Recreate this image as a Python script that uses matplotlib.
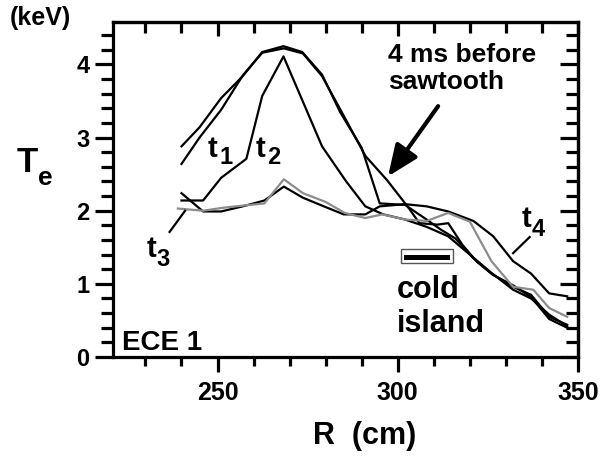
import matplotlib.pyplot as plt
from matplotlib.patches import Rectangle
from matplotlib.ticker import MultipleLocator

plt.rcParams['font.family'] = ['Liberation Sans', 'DejaVu Sans']
plt.rcParams['font.weight'] = 'bold'

# ECE1 electron temperature profiles, R in cm, Te in keV
r_t1a = [240, 245, 251, 257, 262.4, 268.3, 273.5, 279, 284, 290, 295, 302, 308, 312, 316, 321, 326, 332, 337, 342, 347]
te_t1a = [2.88, 3.14, 3.54, 3.84, 4.17, 4.25, 4.17, 3.86, 3.35, 2.86, 2.10, 2.08, 1.88, 1.74, 1.62, 1.35, 1.14, 0.96, 0.85, 0.55, 0.44]

r_t1b = [240, 245, 251, 257, 262.4, 268.4, 273.7, 279, 285, 291, 297, 303, 306, 311, 314, 318, 322, 326.5, 332, 337, 342, 347]
te_t1b = [2.64, 3.00, 3.38, 3.85, 4.16, 4.22, 4.15, 3.84, 3.30, 2.75, 2.42, 2.04, 1.83, 1.81, 1.83, 1.53, 1.30, 1.12, 0.98, 0.82, 0.52, 0.40]

r_t2 = [240, 246, 251, 258, 262.4, 268.3, 279, 285.7, 291, 296, 302, 308, 314, 320, 326, 332, 337, 342, 347]
te_t2 = [2.14, 2.14, 2.45, 2.71, 3.57, 4.11, 2.88, 2.40, 2.06, 1.95, 1.88, 1.78, 1.65, 1.40, 1.15, 0.92, 0.80, 0.58, 0.42]

r_t4 = [240, 246, 251, 257, 263, 268.4, 273.6, 279, 285, 291, 295, 302, 308, 314, 321, 326.5, 332, 337, 342, 347]
te_t4 = [2.24, 1.99, 1.99, 2.06, 2.14, 2.33, 2.18, 2.07, 1.95, 1.95, 2.06, 2.09, 2.06, 1.99, 1.86, 1.65, 1.31, 1.14, 0.87, 0.83]

r_t3 = [239, 246, 251.4, 257, 263, 268.4, 273.7, 280, 285.3, 291, 295.7, 302, 308, 314, 320, 326, 332, 337.6, 342, 347]
te_t3 = [2.03, 2.00, 2.04, 2.07, 2.10, 2.43, 2.24, 2.12, 1.97, 1.90, 1.95, 1.88, 1.86, 1.97, 1.85, 1.31, 0.96, 0.92, 0.67, 0.55]

fig = plt.figure(figsize=(6.03, 4.59), dpi=100)
ax = fig.add_axes([0.1874, 0.2222, 0.7711, 0.7298])

lw = 1.6
ax.plot(r_t1a, te_t1a, color='black', lw=lw)
ax.plot(r_t1b, te_t1b, color='black', lw=lw)
ax.plot(r_t2, te_t2, color='black', lw=lw)
ax.plot(r_t4, te_t4, color='black', lw=lw)
ax.plot(r_t3, te_t3, color='#8c8c8c', lw=lw)

ax.set_xlim(221, 350)
ax.set_ylim(0, 4.58)

for s in ax.spines.values():
    s.set_linewidth(2.3)

ax.xaxis.set_major_locator(MultipleLocator(50))
ax.xaxis.set_minor_locator(MultipleLocator(10))
ax.yaxis.set_major_locator(MultipleLocator(1))
ax.yaxis.set_minor_locator(MultipleLocator(0.2))
ax.tick_params(axis='x', which='major', direction='out', length=11, width=2.3, labelsize=18, pad=6)
ax.tick_params(axis='x', which='minor', direction='out', length=6.5, width=2.3)
ax.tick_params(axis='y', which='major', direction='out', length=13, width=2.3, labelsize=17, pad=4)
ax.tick_params(axis='y', which='minor', direction='out', length=9, width=2.3)

# inward ticks on the top and right frame
top = ax.secondary_xaxis('top')
top.xaxis.set_major_locator(MultipleLocator(50))
top.xaxis.set_minor_locator(MultipleLocator(10))
top.tick_params(which='major', direction='in', length=10, width=2.3, labeltop=False)
top.tick_params(which='minor', direction='in', length=8, width=2.3)
top.spines['top'].set_linewidth(2.3)
right = ax.secondary_yaxis('right')
right.yaxis.set_major_locator(MultipleLocator(1))
right.yaxis.set_minor_locator(MultipleLocator(0.2))
right.tick_params(which='major', direction='in', length=13, width=2.3, labelright=False)
right.tick_params(which='minor', direction='in', length=9, width=2.3)
right.spines['right'].set_linewidth(2.3)

# labels
fig.text(40 / 603, 1 - 18 / 459, '(keV)', fontsize=18, ha='center', va='center')
fig.text(17 / 603, 1 - 172 / 459, 'T', fontsize=25, ha='left', va='baseline')
fig.text(38 / 603, 1 - 185 / 459, 'e', fontsize=19, ha='left', va='baseline')
fig.text(365 / 603, 1 - 436 / 459, 'R  (cm)', fontsize=22, ha='center', va='center')

ax.text(223.6, 0.1, 'ECE 1', fontsize=20, ha='left', va='baseline')

# curve labels t1..t4 with subscripts
tsize, ssize = 21, 17
ax.text(247.2, 2.74, 't', fontsize=tsize)
ax.text(250.6, 2.64, '1', fontsize=ssize)
ax.text(260.6, 2.74, 't', fontsize=tsize)
ax.text(263.8, 2.64, '2', fontsize=ssize)
ax.text(230.3, 1.37, 't', fontsize=tsize)
ax.text(233.0, 1.24, '3', fontsize=ssize)
ax.text(334.4, 1.78, 't', fontsize=tsize)
ax.text(337.2, 1.66, '4', fontsize=ssize)
ax.plot([236.7, 241.0], [1.71, 2.00], color='black', lw=lw)
ax.plot([332.0, 336.6], [1.42, 1.64], color='black', lw=lw)

# arrow to the profile 4 ms before the sawtooth crash
ax.annotate('', xy=(297.3, 2.47), xytext=(311.2, 3.43),
            arrowprops=dict(arrowstyle='-|>,head_length=1.9,head_width=0.8',
                            color='black', lw=3, shrinkA=0, shrinkB=0))
ax.text(297.2, 4.30, '4 ms before\nsawtooth', fontsize=19, ha='left', va='top')

# cold island marker
ax.add_patch(Rectangle((300.8, 1.29), 14.5, 0.18, facecolor='white', edgecolor='#555555', lw=1))
ax.add_patch(Rectangle((301.7, 1.32), 12.7, 0.08, facecolor='black', edgecolor='none'))
ax.text(299.7, 1.12, 'cold\nisland', fontsize=22, ha='left', va='top', linespacing=1.15)

fig.savefig('out.png', dpi=100)
